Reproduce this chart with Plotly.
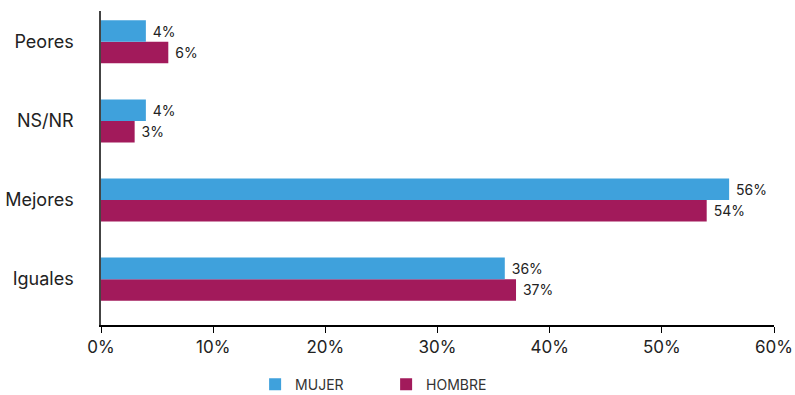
import plotly.graph_objects as go

# Response categories, bottom to top
categories = ["Iguales", "Mejores", "NS/NR", "Peores"]
mujer = [36, 56, 4, 4]
hombre = [37, 54, 3, 6]
x_ticks = [0, 10, 20, 30, 40, 50, 60]
x_tick_text = ["0%", "10%", "20%", "30%", "40%", "50%", "60%"]

BLUE = "#3FA1DC"
CRIMSON = "#A21A5B"
TEXT = "#222222"
FONT = "Inter, Lato, sans-serif"

fig = go.Figure()
# HOMBRE is added first so it sits below MUJER inside each group
fig.add_trace(go.Bar(
    y=categories, x=hombre, name="HOMBRE", orientation="h",
    marker=dict(color=CRIMSON, line=dict(width=0)),
    text=[f"\u00a0{v}%" for v in hombre], textposition="outside",
    textfont=dict(size=14, color=TEXT, family=FONT), cliponaxis=False,
))
fig.add_trace(go.Bar(
    y=categories, x=mujer, name="MUJER", orientation="h",
    marker=dict(color=BLUE, line=dict(width=0)),
    text=[f"\u00a0{v}%" for v in mujer], textposition="outside",
    textfont=dict(size=14, color=TEXT, family=FONT), cliponaxis=False,
))

fig.update_layout(
    width=795, height=395,
    margin=dict(l=101, r=21, t=11, b=70, autoexpand=False),
    paper_bgcolor="white", plot_bgcolor="white",
    barmode="group", bargap=0.456, bargroupgap=0,
    font=dict(family=FONT, color=TEXT, size=16),
    legend=dict(
        orientation="h", x=0.229, xanchor="left", y=-0.19, yanchor="middle",
        traceorder="reversed", font=dict(size=14, color="#333333"),
        itemwidth=30, entrywidth=86,
    ),
    xaxis=dict(
        range=[0, 60], tickvals=x_ticks, ticktext=x_tick_text,
        showgrid=False, zeroline=False, automargin=False,
        showline=True, linecolor="#000000", linewidth=1.5,
        ticks="outside", ticklen=6, tickcolor="#000000", tickwidth=1.2,
        tickfont=dict(size=17, color=TEXT),
    ),
    yaxis=dict(
        range=[-0.58, 3.39], showgrid=False, zeroline=False, automargin=False,
        showline=True, linecolor="#444444", linewidth=1.5,
        ticks="", ticklabelstandoff=22,
        tickfont=dict(size=18, color=TEXT),
        categoryorder="array", categoryarray=categories,
    ),
)

fig.write_html("out.html")
